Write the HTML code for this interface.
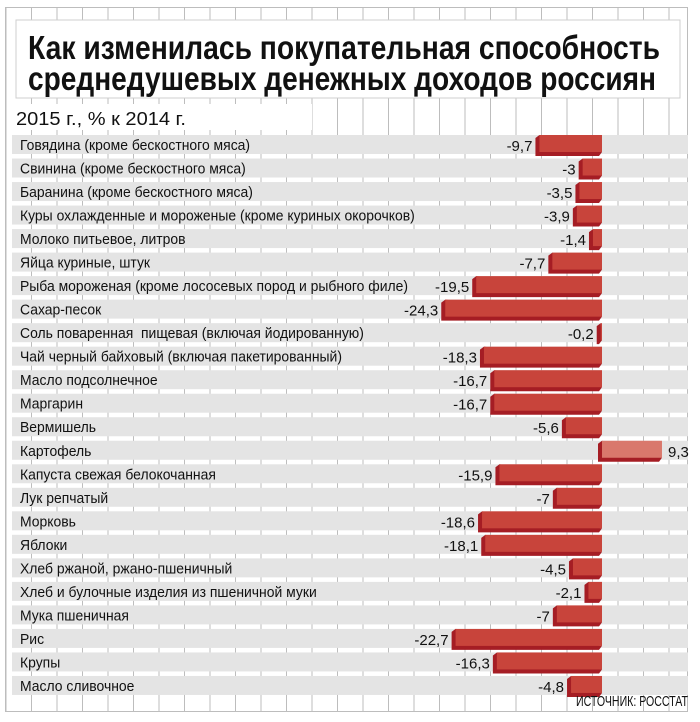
<!DOCTYPE html>
<html><head><meta charset="utf-8"><style>
body{margin:0;background:#fff}
svg{display:block}
.l{font-family:"Liberation Sans Narrow","Liberation Sans",sans-serif;font-size:15px;fill:#111}
.v{font-family:"Liberation Sans",sans-serif;font-size:15px;fill:#111}
</style></head><body>
<svg width="700" height="722" xmlns="http://www.w3.org/2000/svg">
<rect width="700" height="722" fill="#fff"/>
<g id="grid" stroke="#bdbdbd" stroke-width="1"></g>
<rect x="5.5" y="7.5" width="682" height="704" fill="none" stroke="#bdbdbd"/>
<rect x="16" y="20" width="664" height="78" fill="#fff" stroke="#cfcfcf"/>
<text x="28" y="59" font-family="Liberation Sans Narrow,Liberation Sans,sans-serif" font-weight="bold" font-size="33" textLength="632" lengthAdjust="spacingAndGlyphs" fill="#111">Как изменилась покупательная способность</text>
<text x="28" y="90" font-family="Liberation Sans Narrow,Liberation Sans,sans-serif" font-weight="bold" font-size="33" textLength="628" lengthAdjust="spacingAndGlyphs" fill="#111">среднедушевых денежных доходов россиян</text>
<rect x="12" y="104" width="300" height="26" fill="#fff"/>
<text x="16" y="125" font-family="Liberation Sans Narrow,Liberation Sans,sans-serif" font-size="18" fill="#111" textLength="170" lengthAdjust="spacingAndGlyphs">2015 г., % к 2014 г.</text>
<g id="rows"></g>
<text x="688" y="706" text-anchor="end" class="l" font-size="13" textLength="112" lengthAdjust="spacingAndGlyphs">ИСТОЧНИК: РОССТАТ</text>
</svg>
<script>
var g=document.getElementById('grid'),s='';
for(var x=6;x<690;x+=25.5)s+='<line x1="'+x+'" y1="8" x2="'+x+'" y2="711"/>';
g.innerHTML=s;
var d=[["Говядина (кроме бескостного мяса)",-9.7],["Свинина (кроме бескостного мяса)",-3],["Баранина (кроме бескостного мяса)",-3.5],["Куры охлажденные и мороженые (кроме куриных окорочков)",-3.9],["Молоко питьевое, литров",-1.4],["Яйца куриные, штук",-7.7],["Рыба мороженая (кроме лососевых пород и рыбного филе)",-19.5],["Сахар-песок",-24.3],["Соль поваренная  пищевая (включая йодированную)",-0.2],["Чай черный байховый (включая пакетированный)",-18.3],["Масло подсолнечное",-16.7],["Маргарин",-16.7],["Вермишель",-5.6],["Картофель",9.3],["Капуста свежая белокочанная",-15.9],["Лук репчатый",-7],["Морковь",-18.6],["Яблоки",-18.1],["Хлеб ржаной, ржано-пшеничный",-4.5],["Хлеб и булочные изделия из пшеничной муки",-2.1],["Мука пшеничная",-7],["Рис",-22.7],["Крупы",-16.3],["Масло сливочное",-4.8]];
var r='',z=602,k=6.45;
d.forEach(function(e,i){
 var y=135+i*23.52,v=e[1],lab=String(v).replace('.',',');
 r+='<rect x="12" y="'+y+'" width="676" height="19" fill="#e4e4e4"/>';
 r+='<text class="l" transform="translate(20,'+(y+15)+') scale(0.93,1)" xml:space="preserve">'+e[0]+'</text>';
 if(v<0){var x0=z+v*k;
  r+='<polygon points="'+(x0-4)+','+(y+3)+' '+x0+','+(y)+' '+z+','+(y+17)+' '+(z-3)+','+(y+21)+' '+(x0-4)+','+(y+21)+'" fill="#a51d24"/>';
  r+='<rect x="'+x0+'" y="'+y+'" width="'+(z-x0)+'" height="17" fill="#c8443b"/>';
  r+='<text class="v" text-anchor="end" x="'+(x0-7)+'" y="'+(y+16)+'">'+lab+'</text>';
 } else {var x1=z+v*k;
  r+='<polygon points="'+(z-4)+','+(y+3)+' '+z+','+y+' '+x1+','+(y+17)+' '+(x1-3)+','+(y+21)+' '+(z-4)+','+(y+21)+'" fill="#a51d24"/>';
  r+='<rect x="'+z+'" y="'+y+'" width="'+(x1-z)+'" height="17" fill="#d9786c"/>';
  r+='<text class="v" x="'+(x1+6)+'" y="'+(y+16)+'">'+lab+'</text>';
 }
});
document.getElementById('rows').innerHTML=r;
</script>
</body></html>
